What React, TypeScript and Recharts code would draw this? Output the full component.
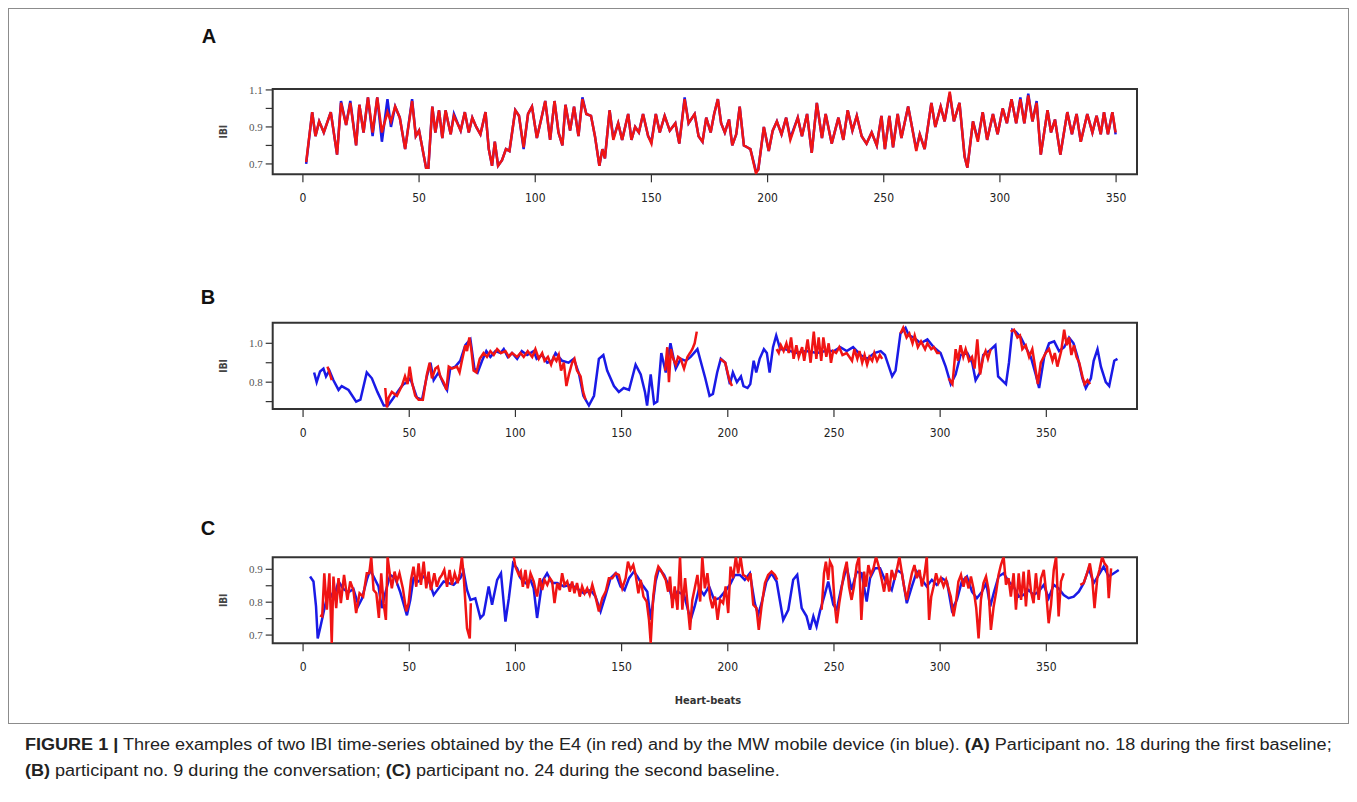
import React from 'react';
import { LineChart, Line, XAxis, YAxis, ReferenceArea } from 'recharts';

// ---- Panel A: participant 18, first baseline (beat index / IBI in s) ----
const aBeats = [
  1.4, 4, 5.4, 7, 9, 12, 14.7, 16.4, 18.6, 20.4, 22.9, 24.3, 26.1, 28, 30, 32, 34, 36.4, 37.9, 39.7,
  41.7, 44, 47, 48.6, 50, 53, 54, 55.7, 57, 58.6, 60, 61.4, 63.6, 65, 67.9, 69.7, 71.4, 72.9, 74.6, 76.4,
  78.6, 80, 81.4, 82.6, 84, 85.7, 87.4, 88.9, 91.4, 93, 95, 96.9, 98.6, 100.7, 102.9, 104.3, 106.4, 108.3, 110, 111.7,
  113, 115, 116.7, 118.6, 120.3, 122, 124, 125.7, 127.6, 128.9, 130, 132, 133.6, 135.7, 137.4, 140, 141.4, 143, 144.6, 146.4,
  148.6, 150, 151.9, 153.6, 155.7, 157.9, 160.3, 162, 164.3, 166, 168.6, 170.3,
  172, 173.6, 175.5, 177, 178.6, 180, 181.6, 183.4, 184.8, 186.5, 188, 189.8, 191.2, 192.6, 195, 196, 198.4, 200.5, 202.2, 204,
  206, 208, 209.8, 213, 214.8, 217, 219, 221.2, 223.4, 225, 227.6, 230.5, 232.6, 234.5, 236.5, 238.4, 240.5, 242.6, 244.8, 247,
  249, 250.5, 252.4, 254, 256, 257.6, 260.5, 262, 264, 265.5, 267.6, 270.5, 272.2, 274.5, 276.2, 278.4, 280.2, 282.6, 284.8, 286,
  288.4, 290.5, 292.6, 294.5, 297, 299, 301.2, 303, 305, 307, 308.8, 310.5, 312.2, 314, 315.8, 317.6, 320.5, 322, 323.7, 326,
  329, 331, 333, 334.8, 337.6, 339.8, 341.6, 343.4, 344.8, 346.5, 348.4, 349.8,
];
const aE4 = [
  0.71, 0.98, 0.85, 0.93, 0.87, 0.98, 0.75, 1.03, 0.91, 1.03, 0.8, 1.02, 0.87, 1.06, 0.87, 1.06, 0.87, 0.98, 0.93, 1.01,
  0.95, 0.78, 1.04, 0.85, 0.88, 0.68, 0.68, 1.01, 0.87, 0.99, 0.84, 0.99, 0.86, 0.96, 0.88, 0.98, 0.87, 0.95, 0.9, 0.86,
  0.98, 0.78, 0.69, 0.82, 0.69, 0.72, 0.78, 0.77, 0.99, 0.96, 0.79, 0.97, 1.01, 0.84, 0.96, 1.04, 0.83, 1.04, 0.87, 0.8,
  1.02, 0.88, 1.01, 0.85, 1.05, 0.97, 0.96, 0.85, 0.69, 0.78, 0.73, 0.99, 0.83, 0.92, 0.83, 0.97, 0.83, 0.9, 0.87, 0.97,
  0.85, 0.81, 0.97, 0.87, 0.96, 0.88, 0.92, 0.81, 1.05, 0.92, 0.97, 0.85,
  0.82, 0.95, 0.87, 0.97, 1.05, 0.92, 0.87, 0.94, 0.8, 0.86, 1.01, 0.8, 0.79, 0.78, 0.65, 0.67, 0.9, 0.77, 0.88, 0.93,
  0.86, 0.95, 0.83, 0.95, 0.85, 0.97, 0.76, 1.03, 0.84, 0.97, 0.81, 0.95, 0.83, 0.99, 0.88, 0.96, 0.85, 0.81, 0.87, 0.8,
  0.96, 0.78, 0.96, 0.79, 0.97, 0.84, 1.01, 0.91, 0.77, 0.86, 0.78, 1.03, 0.9, 1.01, 0.93, 1.09, 0.93, 1.03, 0.74, 0.68,
  0.93, 0.82, 0.98, 0.83, 0.97, 0.86, 1.0, 0.92, 1.05, 0.92, 1.05, 0.92, 1.07, 0.93, 1.03, 0.75, 0.99, 0.87, 0.94, 0.75,
  0.98, 0.86, 0.97, 0.82, 0.97, 0.87, 0.96, 0.86, 0.98, 0.86, 0.98, 0.87,
];
const aMW = [
  0.7, 0.98, 0.85, 0.93, 0.87, 0.98, 0.75, 1.04, 0.91, 1.04, 0.8, 1.02, 0.87, 1.06, 0.85, 1.06, 0.82, 1.05, 0.9, 1.01,
  0.95, 0.78, 1.05, 0.85, 0.88, 0.68, 0.68, 1.01, 0.87, 0.99, 0.84, 0.99, 0.86, 0.97, 0.88, 0.98, 0.87, 0.95, 0.9, 0.86,
  0.98, 0.78, 0.69, 0.82, 0.69, 0.72, 0.78, 0.77, 0.99, 0.96, 0.78, 0.97, 1.01, 0.84, 0.96, 1.04, 0.83, 1.04, 0.87, 0.8,
  1.02, 0.88, 1.01, 0.85, 1.06, 0.97, 0.96, 0.85, 0.69, 0.78, 0.73, 0.99, 0.84, 0.92, 0.83, 0.97, 0.83, 0.9, 0.87, 0.97,
  0.85, 0.82, 0.97, 0.87, 0.96, 0.88, 0.92, 0.81, 1.06, 0.92, 0.97, 0.85,
  0.82, 0.95, 0.87, 0.97, 1.05, 0.92, 0.87, 0.94, 0.8, 0.86, 1.01, 0.8, 0.79, 0.78, 0.66, 0.67, 0.9, 0.77, 0.88, 0.93,
  0.86, 0.95, 0.84, 0.95, 0.85, 0.97, 0.76, 1.03, 0.84, 0.97, 0.81, 0.95, 0.83, 0.99, 0.88, 0.96, 0.85, 0.81, 0.87, 0.8,
  0.96, 0.78, 0.96, 0.79, 0.97, 0.84, 1.01, 0.91, 0.78, 0.86, 0.78, 1.03, 0.9, 1.01, 0.93, 1.08, 0.93, 1.03, 0.74, 0.68,
  0.93, 0.83, 0.98, 0.83, 0.97, 0.86, 1.0, 0.92, 1.05, 0.92, 1.06, 0.92, 1.08, 0.93, 1.04, 0.75, 0.99, 0.87, 0.94, 0.75,
  0.98, 0.86, 0.97, 0.82, 0.97, 0.87, 0.96, 0.86, 0.98, 0.86, 0.98, 0.86,
];

// ---- Panel B: participant 9, conversation ----
const bMWBeats = [
  5.2, 6.4, 8, 9.6, 10.8, 12.4, 14.3, 16.7, 18.2, 21.4, 25, 27, 30, 32.4, 35, 38, 40, 42.6, 45.8, 47.3,
  49, 50.5, 53.6, 56, 58.3, 60, 61.5, 63.8, 66.2, 67.8, 69.3, 71.7, 74, 76.4, 78.8, 80.7, 82.2, 84.3, 86.3, 88.2,
  90.6, 93, 94.5, 96.4, 98.4, 100.8, 103, 105.5, 108.6, 110, 112.6, 115, 117.3, 118.9, 122, 125, 127.5, 130, 132, 134.6,
  137, 139.3, 141.4, 143.2, 146.4, 148.7, 151, 153.5, 156.6, 159, 161, 162, 163.7, 165.3, 166.8, 168.7, 170.8, 173, 175.5, 177.8,
  180.2, 182.5, 185.7, 189.4, 191.4, 193, 195, 196.7, 198.8, 201, 202.4, 204.3, 206.2, 207.4, 209.3, 210.6, 212.2, 213.4, 215, 217,
  218.4, 219.7, 221.3, 222.8, 224.7, 227, 232, 237, 242, 246, 250, 253, 256, 259, 262.5, 265.6, 269, 272, 274, 277.4,
  279, 281.3, 283.7, 285.3, 287.6, 290.8, 294, 297, 300.2, 302.6, 305, 307.3, 309.6, 312.8, 315.1, 316.7, 318.8, 320.3, 323, 326,
  327.3, 331, 332.4, 334, 335.6, 338, 340.3, 342.7, 345, 346.6, 349, 351.3, 353.7, 356, 358.4, 360.7, 362.8, 364.7, 367, 368.6,
  371, 372.3, 374.1, 375.7, 378, 379.6, 382, 383.5,
];
const bMW = [
  0.85, 0.8, 0.855, 0.87, 0.83, 0.86, 0.81, 0.76, 0.78, 0.76, 0.7, 0.71, 0.85, 0.82, 0.75, 0.68, 0.68, 0.72, 0.77, 0.79,
  0.8, 0.82, 0.72, 0.71, 0.83, 0.9, 0.81, 0.85, 0.79, 0.76, 0.87, 0.88, 0.91, 0.99, 1.02, 0.87, 0.85, 0.91, 0.96, 0.93,
  0.96, 0.95, 0.97, 0.93, 0.95, 0.92, 0.96, 0.94, 0.96, 0.92, 0.94, 0.9, 0.91, 0.95, 0.91, 0.9, 0.92, 0.84, 0.73, 0.68,
  0.73, 0.92, 0.94, 0.86, 0.78, 0.75, 0.77, 0.76, 0.89, 0.84, 0.75, 0.68, 0.84, 0.69, 0.7, 0.95, 0.85, 1.0, 0.87, 0.92,
  0.91, 0.93, 0.97, 0.82, 0.73, 0.74, 0.85, 0.92, 0.9, 0.79, 0.85, 0.8, 0.83, 0.78, 0.77, 0.79, 0.91, 0.85, 0.92, 0.97,
  0.95, 0.85, 0.98, 1.04, 0.97, 0.97, 0.95, 0.96, 0.95, 0.96, 0.96, 0.98, 0.96, 0.98, 0.94, 0.92, 0.95, 0.96, 0.94, 0.83,
  0.86, 1.05, 1.08, 1.04, 1.03, 1.0, 1.02, 0.98, 0.95, 0.88, 0.79, 0.84, 0.94, 0.95, 0.9, 0.81, 0.85, 0.94, 0.96, 0.99,
  0.83, 0.79, 0.9, 1.07, 1.06, 1.03, 0.98, 0.93, 0.84, 0.77, 0.93, 1.0, 1.01, 0.96, 0.98, 1.03, 1.0, 0.93, 0.82, 0.77,
  0.82, 0.91, 0.97, 0.88, 0.8, 0.78, 0.91, 0.92,
];
// E4 recording has gaps: null breaks the red line
const bE4Beats = [
  11.5, 12.4, 13.5, 14.5,
  38.7, 39.5, 40.3, 41.8, 44.2, 46.5, 48, 49.2, 50.2, 51.3, 52.8, 54.4, 56.4, 58.3, 59.6, 60.7, 62.3, 63.5, 64.6, 66.2,
  67.5, 68.6, 70.1, 72.5, 73.7, 74.8, 76.4, 77.2, 78.3, 79.2, 80.3, 81.6, 83.2, 85, 86.6, 88.2, 89.8, 91.4, 93.2, 95.3,
  96.9, 98.4, 100.8, 102.4, 103.9, 105.8, 107.9, 109.4, 111, 112.6, 113.7, 115.3, 116.8, 118, 119.3, 120.4, 121.5, 122.8, 124, 125.2,
  126.7, 127.8, 129, 130.7, 131.9, 133, 134,
  170.5, 171.5, 172.3, 173.2, 174.3, 175.5, 176.6, 177.8, 179.4, 181, 182.2, 183.3, 184.4, 185.4, 186,
  196.4, 198.8, 200.8, 202, 203,
  223, 224, 225, 226.3, 227.6, 228.7, 229.8, 231, 232.3, 233.4, 235, 236, 237.6, 239, 240.5, 241.7, 242.8, 244, 245, 246.4,
  247.5, 248.6, 249.6, 251, 252.5, 254, 256, 258.5, 259.6, 261, 262, 263.3, 264.4, 265.6, 266.7, 268, 269, 270.3, 271.6, 272.7, 273.5,
  281.3, 282.6, 284.2, 285.5, 287, 288, 289.5, 291, 292.9, 294, 295.8, 297, 298.6, 300, 301,
  304, 305.8, 307.3, 308.4, 309.6, 310.9, 312, 313.6, 315, 316.2, 317.5, 318.8, 320.3, 321.4, 322.5, 323.8, 324.5,
  333.2, 334.8, 336.4, 337.6, 338.7, 340.3, 341.9, 343.4, 345, 346, 347.4, 349.7, 351.3, 352.9, 354, 355.2, 357, 358.4, 359.6, 360.7,
  361.8, 363, 364.2, 365.5, 367, 368, 369.4, 370.6,
];
const bE4 = [
  0.88, 0.85, 0.81, null,
  0.77, 0.67, 0.72, 0.75, 0.73, 0.78, 0.83, 0.79, 0.88, 0.8, 0.73, 0.71, 0.71, 0.84, 0.9, 0.82, 0.87, 0.88, 0.83, 0.8,
  0.76, 0.88, 0.87, 0.88, 0.85, 0.91, 0.99, 0.96, 1.03, 0.97, 0.86, 0.85, 0.92, 0.95, 0.93, 0.96, 0.94, 0.97, 0.95, 0.96,
  0.93, 0.95, 0.93, 0.95, 0.93, 0.96, 0.93, 0.97, 0.92, 0.95, 0.91, 0.93, 0.89, 0.93, 0.91, 0.94, 0.86, 0.9, 0.78, 0.84,
  0.9, 0.92, 0.86, 0.83, 0.75, 0.71, null,
  0.86, 0.98, 0.8, 0.97, 0.92, 0.89, 0.93, 0.92, 0.87, 0.93, 0.95, 0.97, 1.0, 1.06, null,
  0.92, 0.9, 0.81, 0.78, null,
  0.97, 0.95, 0.99, 0.96, 1.0, 0.95, 1.03, 0.92, 0.99, 0.93, 0.98, 0.91, 1.02, 0.9, 1.06, 0.92, 1.03, 0.91, 1.03, 0.93,
  1.0, 0.9, 0.96, 0.95, 0.98, 0.94, 0.95, 0.91, 0.97, 0.92, 0.96, 0.9, 0.94, 0.89, 0.93, 0.91, 0.95, 0.91, 0.94, 0.92, null,
  1.05, 1.08, 1.03, 1.05, 1.0, 1.04, 0.98, 1.01, 0.97, 1.0, 0.97, 0.98, 0.95, 0.95, null,
  0.82, 0.79, 0.97, 0.91, 0.99, 0.93, 0.97, 0.91, 0.93, 0.87, 1.02, 0.84, 0.93, 0.96, 0.92, 0.97, null,
  1.06, 1.07, 1.03, 1.04, 0.97, 0.99, 0.93, 0.97, 0.86, 0.79, 0.9, 0.95, 0.97, 0.91, 0.95, 0.88, 0.96, 1.07, 0.99, 1.03,
  0.94, 0.99, 0.93, 0.9, 0.83, 0.79, 0.81, 0.79,
];

// ---- Panel C: participant 24, second baseline ----
const cMWBeats = [
  3.3, 4.9, 6.1, 6.9, 8, 9.6, 12, 14.3, 16.7, 19, 21.4, 23.7, 26.1, 27.7, 30, 31.6, 33.2, 35.5, 37.1, 38.7,
  41, 43.4, 45.8, 48.9, 50.5, 52, 54.4, 56.8, 59.1, 61.5, 63.8, 66.2, 68.6, 70.9, 74, 75.6, 77.2, 78.8, 81.1, 83.5,
  85, 87.4, 89, 91.4, 93.2, 95.3, 96.9, 98.9, 100.8, 102.4, 104.7, 107.1, 108.6, 110.2, 112.6, 114.9, 117.3, 119.7, 122.8, 126,
  129, 132.2, 135.4, 137.7, 140.1, 142.5, 144.8, 147.2, 149.5, 151.4, 153.5, 155.8, 157.4, 159.7, 162.1, 163.7, 166, 167.6, 170, 172.3,
  173.9, 176.3, 179.4, 182.5, 184.4, 186.5, 188.8, 191.2, 193.6, 196, 198.6, 201, 203.3, 205.7, 208, 210.4, 212.7, 214.3, 215.9, 218.2,
  220.6, 223, 226.1, 228.5, 230.8, 232.7, 234.8, 237.1, 238.7, 240.3, 241.8, 243.4, 245.8, 247.3, 249.7, 251.3, 253.6, 256, 258.3, 260.7,
  263, 265.4, 267, 269.3, 271.7, 274, 277.2, 279.6, 282, 284.3, 286.7, 289, 291.4, 293.7, 296.1, 298.4, 300.8, 303.2, 305.5, 307.9,
  310.2, 312.6, 315, 317.3, 319.7, 321.7, 323.6, 325.2, 327.5, 329.9, 332.2, 334.6, 337, 339.3, 341.7, 344, 346.4, 348.8, 351.1, 353.5,
  355.8, 358.2, 360.5, 362.9, 365.3, 367.6, 370, 372.3, 374.7, 377, 379.4, 381.8, 384.1,
];
const cMW = [
  0.878, 0.863, 0.787, 0.69, 0.72, 0.767, 0.837, 0.81, 0.863, 0.84, 0.83, 0.84, 0.79, 0.81, 0.868, 0.898, 0.878, 0.848, 0.782, 0.827,
  0.883, 0.873, 0.83, 0.76, 0.807, 0.873, 0.863, 0.878, 0.868, 0.822, 0.842, 0.863, 0.858, 0.853, 0.873, 0.893, 0.837, 0.807, 0.812, 0.752,
  0.762, 0.848, 0.792, 0.868, 0.888, 0.741, 0.812, 0.918, 0.903, 0.873, 0.858, 0.868, 0.842, 0.752, 0.863, 0.888, 0.858, 0.858, 0.848, 0.853,
  0.842, 0.827, 0.837, 0.817, 0.772, 0.822, 0.873, 0.888, 0.848, 0.837, 0.873, 0.893, 0.878, 0.853, 0.832, 0.746, 0.863, 0.903, 0.883, 0.848,
  0.807, 0.832, 0.822, 0.746, 0.787, 0.842, 0.822, 0.848, 0.807, 0.812, 0.832, 0.853, 0.883, 0.883, 0.868, 0.888, 0.797, 0.762, 0.797, 0.863,
  0.888, 0.863, 0.746, 0.777, 0.868, 0.883, 0.782, 0.757, 0.716, 0.757, 0.726, 0.772, 0.827, 0.863, 0.792, 0.777, 0.848, 0.908, 0.837, 0.893,
  0.888, 0.802, 0.873, 0.903, 0.903, 0.868, 0.837, 0.898, 0.888, 0.797, 0.848, 0.893, 0.868, 0.848, 0.868, 0.853, 0.873, 0.863, 0.777, 0.807,
  0.863, 0.878, 0.832, 0.812, 0.832, 0.858, 0.787, 0.827, 0.878, 0.888, 0.863, 0.848, 0.817, 0.822, 0.837, 0.822, 0.832, 0.853, 0.812, 0.853,
  0.842, 0.822, 0.812, 0.817, 0.832, 0.858, 0.903, 0.858, 0.883, 0.908, 0.878, 0.888, 0.898,
];
const cE4Beats = [
  8, 9, 10, 11.2, 12.4, 13.5, 14.3, 15.6, 16.7, 17.8, 19.3, 20.9, 22.2, 23.7, 25, 26.6, 28.3, 30, 31.2, 32.1,
  33.2, 34.5, 35.7, 36.8, 37.9, 39, 39.8, 40.7, 41.8, 43.1, 44.2, 45.4, 47, 48.6, 49.7, 50.8, 52, 53.3, 54.4, 55.5,
  56.8, 58, 59.1, 60.2, 61.8, 63, 64.3, 65.4, 66.5, 67.8, 69, 70.1, 71.4, 72.8, 73.8, 74.8, 75.6, 77.2, 78.5, 79, 80,
  99.2, 100, 101.6, 102.5, 103.5, 104.7, 105.8, 107.1, 108.6, 110.2, 111.5, 112.6, 113.7, 115, 116.2, 117.3, 118.4, 119.7, 120.9, 122,
  123.1, 124.4, 125.6, 126.7, 127.8, 129, 130.3, 131.4, 132.6, 133.8, 135, 136.2, 137.7, 139.3, 140.9, 142.5, 144, 145.6, 147.2, 148.7,
  150.3, 151.9, 153, 154.2, 155.5, 156.6, 157.9, 159, 160.3, 161.8, 162.9, 163.7, 164.9, 166, 167.3, 168.4, 169.6, 170.8, 171.9, 172.8,
  173.9, 175, 176.3, 177.5, 178.6, 179.9, 181, 182.2, 183.3, 184.6, 185.7, 187, 188, 189.2, 190.4, 191.7, 192.8, 194, 195.2, 196.4,
  197.8, 199, 200.2, 201.3, 202.5, 203.8, 204.9, 206, 207.2, 208.4, 209.6, 210.7, 212, 213.5, 214.6, 215.9, 217.5, 219, 220.6, 222.2, 223.3, 224.5,
  244.2, 245.3, 246.2, 247.3, 248.1, 249.2, 250.3, 251.3, 252.5, 253.6, 254.7, 256, 257.1, 258.3, 259.4, 260.7, 261.8, 262.9, 264.2, 265.1,
  266.2, 267.3, 268.6, 269.8, 270.9, 272.5, 273.6, 274.9, 276, 277.2, 278.5, 279.6, 280.8, 282, 283, 284.3, 285.4, 286.7, 287.9, 289,
  290.3, 291.4, 292.6, 293.7, 294.8, 295.8, 296.9, 298.1, 299.2, 300.3, 301.6, 302.8, 303.9, 305, 306.3, 307.4, 308.6, 309.8, 311, 312.1,
  313.4, 314.5, 315.7, 317, 318.1, 319.2, 320.4, 321.6, 322.8, 323.9, 325.2, 326.4, 327.5, 328.6, 329.9, 331, 332.2, 333.3, 334.6, 335.7,
  337, 338.1, 339.3, 340.4, 341.7, 342.8, 344, 345.1, 346.4, 347.5, 348.8, 349.9, 351.1, 352.2, 353.5, 354.6, 355.8, 356.9, 358.2, 359,
  366, 367.6, 369.2, 370.5, 371.6, 372.7, 374, 375, 376.3, 377.4, 378.6, 379.4, 380.5,
];
const cE4 = [
  0.76, 0.757, 0.888, 0.777, 0.888, 0.676, 0.878, 0.782, 0.873, 0.797, 0.883, 0.807, 0.863, 0.837, 0.767, 0.827, 0.817, 0.888, 0.888, 0.938,
  0.837, 0.827, 0.752, 0.888, 0.797, 0.746, 0.938, 0.893, 0.842, 0.893, 0.863, 0.888, 0.842, 0.772, 0.797, 0.868, 0.908, 0.847, 0.918, 0.853,
  0.923, 0.842, 0.893, 0.837, 0.888, 0.847, 0.873, 0.883, 0.898, 0.847, 0.898, 0.853, 0.888, 0.858, 0.888, 0.938, 0.883, 0.721, 0.69, 0.797, null,
  0.938, 0.908, 0.883, 0.893, 0.847, 0.898, 0.842, 0.888, 0.863, 0.817, 0.873, 0.837, 0.868, 0.853, 0.873, 0.863, 0.797, 0.858, 0.837, 0.888,
  0.853, 0.863, 0.832, 0.863, 0.827, 0.858, 0.817, 0.848, 0.827, 0.842, 0.822, 0.853, 0.817, 0.772, 0.812, 0.832, 0.873, 0.873, 0.888, 0.883,
  0.842, 0.873, 0.923, 0.898, 0.913, 0.883, 0.827, 0.868, 0.817, 0.802, 0.746, 0.676, 0.817, 0.878, 0.908, 0.898, 0.883, 0.868, 0.832, 0.878,
  0.782, 0.848, 0.777, 0.938, 0.777, 0.873, 0.797, 0.716, 0.807, 0.848, 0.883, 0.802, 0.938, 0.842, 0.888, 0.812, 0.782, 0.817, 0.746, 0.807,
  0.797, 0.848, 0.767, 0.908, 0.873, 0.938, 0.888, 0.938, 0.883, 0.878, 0.868, 0.888, 0.792, 0.782, 0.716, 0.787, 0.858, 0.883, 0.893, 0.883, 0.868, null,
  0.777, 0.888, 0.923, 0.868, 0.923, 0.908, 0.797, 0.736, 0.797, 0.842, 0.888, 0.923, 0.847, 0.807, 0.847, 0.913, 0.938, 0.746, 0.893, 0.847,
  0.913, 0.883, 0.903, 0.938, 0.913, 0.868, 0.832, 0.888, 0.832, 0.898, 0.868, 0.898, 0.938, 0.888, 0.848, 0.807, 0.848, 0.888, 0.913, 0.873,
  0.898, 0.848, 0.883, 0.938, 0.746, 0.817, 0.848, 0.888, 0.858, 0.873, 0.848, 0.868, 0.842, 0.817, 0.757, 0.797, 0.863, 0.883, 0.847, 0.878,
  0.842, 0.878, 0.842, 0.782, 0.69, 0.807, 0.858, 0.878, 0.837, 0.716, 0.787, 0.832, 0.883, 0.913, 0.938, 0.853, 0.873, 0.817, 0.888, 0.777,
  0.888, 0.807, 0.893, 0.787, 0.898, 0.832, 0.797, 0.888, 0.807, 0.873, 0.898, 0.832, 0.736, 0.792, 0.898, 0.938, 0.757, 0.863, 0.888, null,
  0.853, 0.858, 0.888, 0.918, 0.873, 0.782, 0.873, 0.898, 0.938, 0.918, 0.908, 0.812, 0.903,
];

// ---- axes ----
const xTicks = [0, 50, 100, 150, 200, 250, 300, 350];
const aYTicks = [0.7, 0.8, 0.9, 1.0, 1.1];
const aYLabels = [0.7, 0.9, 1.1];
const bYTicks = [0.7, 0.8, 0.9, 1.0];
const bYLabels = [0.8, 1.0];
const cYTicks = [0.7, 0.75, 0.8, 0.85, 0.9];
const cYLabels = [0.7, 0.8, 0.9];

const RED = '#f01414';
const BLUE = '#1a1ae6';
const narrow = "'Liberation Sans Narrow', 'DejaVu Sans Condensed', 'Liberation Sans', Arial, sans-serif";
const serif = "'Liberation Serif', 'DejaVu Serif', serif";

type Pt = { x: number; y: number | null };
const toPoints = (beats: number[], vals: (number | null)[]): Pt[] =>
  beats.map((x, i) => ({ x, y: vals[i] }));

interface PanelProps {
  chartTop: number;
  plotTop: number;
  plotBottom: number;
  xDomain: [number, number];
  yDomain: [number, number];
  yTicks: number[];
  yLabels: number[];
  mw: Pt[];
  e4: Pt[];
}

const CHART_H = 170;

const Panel: React.FC<PanelProps> = ({ chartTop, plotTop, plotBottom, xDomain, yDomain, yTicks, yLabels, mw, e4 }) => (
  <div style={{ position: 'absolute', left: -8, top: chartTop - 8 }}>
    <LineChart
      width={1357}
      height={CHART_H}
      margin={{ top: plotTop - chartTop, right: 220, bottom: chartTop + CHART_H - plotBottom - 30, left: 212.7 }}
    >
      <XAxis
        type="number"
        dataKey="x"
        domain={xDomain}
        ticks={xTicks}
        interval={0}
        allowDataOverflow
        height={30}
        axisLine={false}
        tickLine={{ stroke: '#333', strokeWidth: 1.2 }}
        tickSize={8}
        tickMargin={11}
        tick={{ fontSize: 12, fill: '#222', fontFamily: narrow }}
      />
      <YAxis
        type="number"
        domain={yDomain}
        ticks={yTicks}
        interval={0}
        allowDataOverflow
        width={60}
        axisLine={false}
        tickLine={{ stroke: '#333', strokeWidth: 1.2 }}
        tickSize={7}
        tickMargin={3}
        tickFormatter={(v: number) => (yLabels.includes(v) ? v.toFixed(1) : '')}
        tick={{ fontSize: 11, fill: '#555', fontFamily: serif }}
        label={{
          value: 'IBI',
          angle: -90,
          position: 'insideLeft',
          offset: 11,
          style: { textAnchor: 'middle', fontSize: 10, fill: '#444', fontFamily: narrow, fontWeight: 'bold' },
        }}
      />
      <Line data={mw} dataKey="y" type="linear" stroke={BLUE} strokeWidth={2.5} dot={false} isAnimationActive={false} connectNulls={false} />
      <Line data={e4} dataKey="y" type="linear" stroke={RED} strokeWidth={2.5} dot={false} isAnimationActive={false} connectNulls={false} />
      <ReferenceArea
        x1={xDomain[0]}
        x2={xDomain[1]}
        y1={yDomain[0]}
        y2={yDomain[1]}
        fill="none"
        stroke="#333"
        strokeWidth={2}
        ifOverflow="visible"
      />
    </LineChart>
  </div>
);

const letter = (t: string, x: number, y: number) => (
  <div
    style={{
      position: 'absolute', left: x - 8, top: y - 8, transform: 'translate(-50%, -50%)',
      fontFamily: "'Liberation Sans', Arial, sans-serif", fontWeight: 'bold', fontSize: 20, color: '#111',
    }}
  >
    {t}
  </div>
);

export default function App() {
  return (
    <div style={{ position: 'relative', width: 1341, height: 786, background: '#fff' }}>
      <div style={{ position: 'absolute', left: 0, top: 0, width: 1339, height: 714, border: '1px solid #8c8c8c' }} />
      {letter('A', 209, 36)}
      {letter('B', 208, 297)}
      {letter('C', 208, 528)}
      <Panel
        chartTop={60}
        plotTop={89}
        plotBottom={174.3}
        xDomain={[-13, 359]}
        yDomain={[0.644, 1.105]}
        yTicks={aYTicks}
        yLabels={aYLabels}
        mw={toPoints(aBeats, aMW)}
        e4={toPoints(aBeats, aE4)}
      />
      <Panel
        chartTop={300}
        plotTop={322.7}
        plotBottom={409}
        xDomain={[-14.3, 392.7]}
        yDomain={[0.662, 1.106]}
        yTicks={bYTicks}
        yLabels={bYLabels}
        mw={toPoints(bMWBeats, bMW)}
        e4={toPoints(bE4Beats, bE4)}
      />
      <Panel
        chartTop={535}
        plotTop={557.3}
        plotBottom={643.3}
        xDomain={[-14.3, 392.7]}
        yDomain={[0.675, 0.9365]}
        yTicks={cYTicks}
        yLabels={cYLabels}
        mw={toPoints(cMWBeats, cMW)}
        e4={toPoints(cE4Beats, cE4)}
      />
      <div
        style={{
          position: 'absolute', left: 708 - 8, top: 700 - 8, transform: 'translate(-50%, -50%)',
          fontFamily: narrow, fontWeight: 'bold', fontSize: 11, color: '#333', whiteSpace: 'nowrap',
        }}
      >
        Heart-beats
      </div>
      <div
        style={{
          position: 'absolute', left: 17, top: 724, fontFamily: "'Liberation Sans', Arial, sans-serif",
          fontSize: 16, lineHeight: '26px', color: '#222', whiteSpace: 'nowrap',
          transform: 'scaleX(1.127)', transformOrigin: 'left top',
        }}
      >
        <div>
          <b>FIGURE 1 |</b> Three examples of two IBI time-series obtained by the E4 (in red) and by the MW mobile device (in blue).{' '}
          <b>(A)</b> Participant no. 18 during the first baseline;
        </div>
        <div>
          <b>(B)</b> participant no. 9 during the conversation; <b>(C)</b> participant no. 24 during the second baseline.
        </div>
      </div>
    </div>
  );
}
